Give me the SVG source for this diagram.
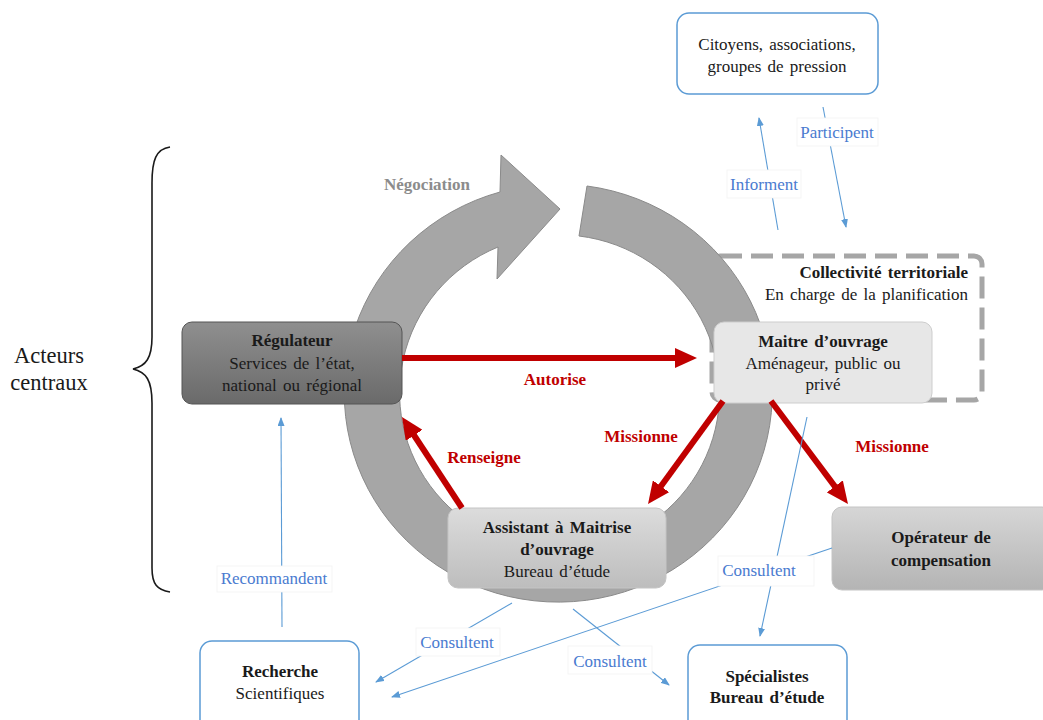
<svg xmlns="http://www.w3.org/2000/svg" width="1043" height="720" viewBox="0 0 1043 720">
<style>
text{font-family:"Liberation Serif","Times New Roman",serif;font-size:17px;text-anchor:middle;fill:#1a1a1a;word-spacing:2px}
.b{font-weight:bold}
.red{fill:#c00000;font-weight:bold}
.blu{fill:#4a7bd0}
.rl{stroke:#c00000;stroke-width:6;fill:none}
.bl{stroke:#5b9bd5;stroke-width:1.1;fill:none}
.bbox{fill:#fff;stroke:#5b9bd5;stroke-width:1.5}
.lbg{fill:#fff;stroke:#f3f3f3;stroke-width:0.8}
</style>
<defs>
<linearGradient id="gReg" x1="0" y1="0" x2="0" y2="1"><stop offset="0" stop-color="#8f8f8f"/><stop offset="1" stop-color="#6a6a6a"/></linearGradient>
<linearGradient id="gAss" x1="0" y1="0" x2="0" y2="1"><stop offset="0" stop-color="#dcdcdc"/><stop offset="1" stop-color="#bdbdbd"/></linearGradient>
<linearGradient id="gOp" x1="0" y1="0" x2="0" y2="1"><stop offset="0" stop-color="#d6d6d6"/><stop offset="1" stop-color="#b4b4b4"/></linearGradient>
<marker id="mr" markerUnits="userSpaceOnUse" viewBox="0 0 22 20" refX="10" refY="10" markerWidth="22" markerHeight="20" orient="auto"><path d="M0,0 L22,10 L0,20 z" fill="#c00000"/></marker>
<marker id="mb" markerUnits="userSpaceOnUse" viewBox="0 0 9 7" refX="8" refY="3.5" markerWidth="9" markerHeight="7" orient="auto"><path d="M0,0 L9,3.5 L0,7 z" fill="#5b9bd5"/></marker>
</defs>
<rect width="1043" height="720" fill="#fff"/>

<g id="brace">
<path d="M170,147 C156,149 152,160 152,183 L152,337 C152,358 146,366 133,369 C146,372 152,380 152,403 L152,568 C152,584 157,590 170,592" fill="none" stroke="#1a1a1a" stroke-width="1.6"/>
<text x="49" y="363" style="font-size:22.5px">Acteurs</text>
<text x="49" y="390" style="font-size:22.5px">centraux</text>
</g>

<g id="collectivite">
<rect x="712" y="256" width="270" height="144" rx="8" fill="none" stroke="#a6a6a6" stroke-width="5" stroke-dasharray="22 9"/>
<text x="968" y="278" class="b" style="text-anchor:end">Collectivité territoriale</text>
<text x="968" y="300" style="text-anchor:end">En charge de la planification</text>
</g>

<g id="negociation">
<path d="M587,186 A214,209 0 1,1 500,192 L501,155 L560,209 L497,279 L498,247 A160,158 0 1,0 579,236 Z" fill="#a6a6a6" stroke="#8a8a8a" stroke-width="1"/>
<text x="427" y="190" class="b" style="fill:#8c8c8c">Négociation</text>
</g>

<g id="citoyens">
<rect x="677" y="13" width="201" height="81" rx="12" class="bbox"/>
<text x="777" y="50">Citoyens, associations,</text>
<text x="777" y="72">groupes de pression</text>
</g>

<g id="regulateur">
<rect x="182" y="322" width="220" height="82" rx="10" fill="url(#gReg)" stroke="#555" stroke-width="1"/>
<text x="292" y="346" class="b">Régulateur</text>
<text x="292" y="369">Services de l’état,</text>
<text x="292" y="391">national ou régional</text>
</g>

<g id="maitre">
<rect x="714" y="322" width="218" height="81" rx="10" fill="#e7e7e7" stroke="#cdcdcd" stroke-width="1"/>
<text x="823" y="347" class="b">Maitre d’ouvrage</text>
<text x="823" y="369">Aménageur, public ou</text>
<text x="823" y="390">privé</text>
</g>

<g id="assistant">
<rect x="448" y="508" width="218" height="80" rx="10" fill="url(#gAss)" stroke="#c4c4c4" stroke-width="1"/>
<text x="557" y="533" class="b">Assistant à Maitrise</text>
<text x="557" y="555" class="b">d’ouvrage</text>
<text x="557" y="577">Bureau d’étude</text>
</g>

<g id="operateur">
<rect x="832" y="507" width="220" height="83" rx="10" fill="url(#gOp)" stroke="#c4c4c4" stroke-width="1"/>
<text x="941" y="543" class="b">Opérateur de</text>
<text x="941" y="566" class="b">compensation</text>
</g>

<g id="specialistes">
<rect x="688" y="645" width="159" height="90" rx="12" class="bbox"/>
<text x="767" y="682" class="b">Spécialistes</text>
<text x="767" y="703" class="b">Bureau d’étude</text>
</g>

<g id="recherche">
<rect x="200" y="641" width="159" height="94" rx="12" class="bbox"/>
<text x="280" y="677" class="b">Recherche</text>
<text x="280" y="699">Scientifiques</text>
</g>

<g id="connectors">
<line x1="402" y1="358" x2="685" y2="358" class="rl" marker-end="url(#mr)"/>
<line x1="723" y1="401" x2="655.1" y2="494.3" class="rl" marker-end="url(#mr)"/>
<line x1="771" y1="401" x2="840.8" y2="494.4" class="rl" marker-end="url(#mr)"/>
<line x1="462" y1="508" x2="408.6" y2="427" class="rl" marker-end="url(#mr)"/>

<line x1="778" y1="230" x2="759" y2="118" class="bl" marker-end="url(#mb)"/>
<line x1="823" y1="107" x2="846" y2="227" class="bl" marker-end="url(#mb)"/>
<line x1="282" y1="627" x2="281" y2="418" class="bl" marker-end="url(#mb)"/>
<line x1="512" y1="603" x2="376" y2="682" class="bl" marker-end="url(#mb)"/>
<line x1="573" y1="609" x2="669" y2="685" class="bl" marker-end="url(#mb)"/>
<line x1="832" y1="548" x2="392" y2="697" class="bl" marker-end="url(#mb)"/>
<line x1="807" y1="417" x2="760" y2="636" class="bl" marker-end="url(#mb)"/>
</g>

<g id="labels">
<text x="555" y="385" class="red">Autorise</text>
<text x="641" y="442" class="red">Missionne</text>
<text x="892" y="452" class="red">Missionne</text>
<text x="484" y="463" class="red">Renseigne</text>

<rect x="727" y="170" width="74" height="28" class="lbg"/>
<text x="764" y="190" class="blu">Informent</text>
<rect x="797" y="118" width="81" height="28" class="lbg"/>
<text x="837" y="138" class="blu">Participent</text>
<rect x="217" y="566" width="115" height="26" class="lbg"/>
<text x="274" y="584" class="blu">Recommandent</text>
<rect x="416" y="628" width="84" height="28" class="lbg"/>
<text x="457" y="648" class="blu">Consultent</text>
<rect x="568" y="646" width="84" height="28" class="lbg"/>
<text x="610" y="667" class="blu">Consultent</text>
<rect x="718" y="556" width="96" height="30" class="lbg"/>
<text x="759" y="576" class="blu">Consultent</text>
</g>
</svg>
